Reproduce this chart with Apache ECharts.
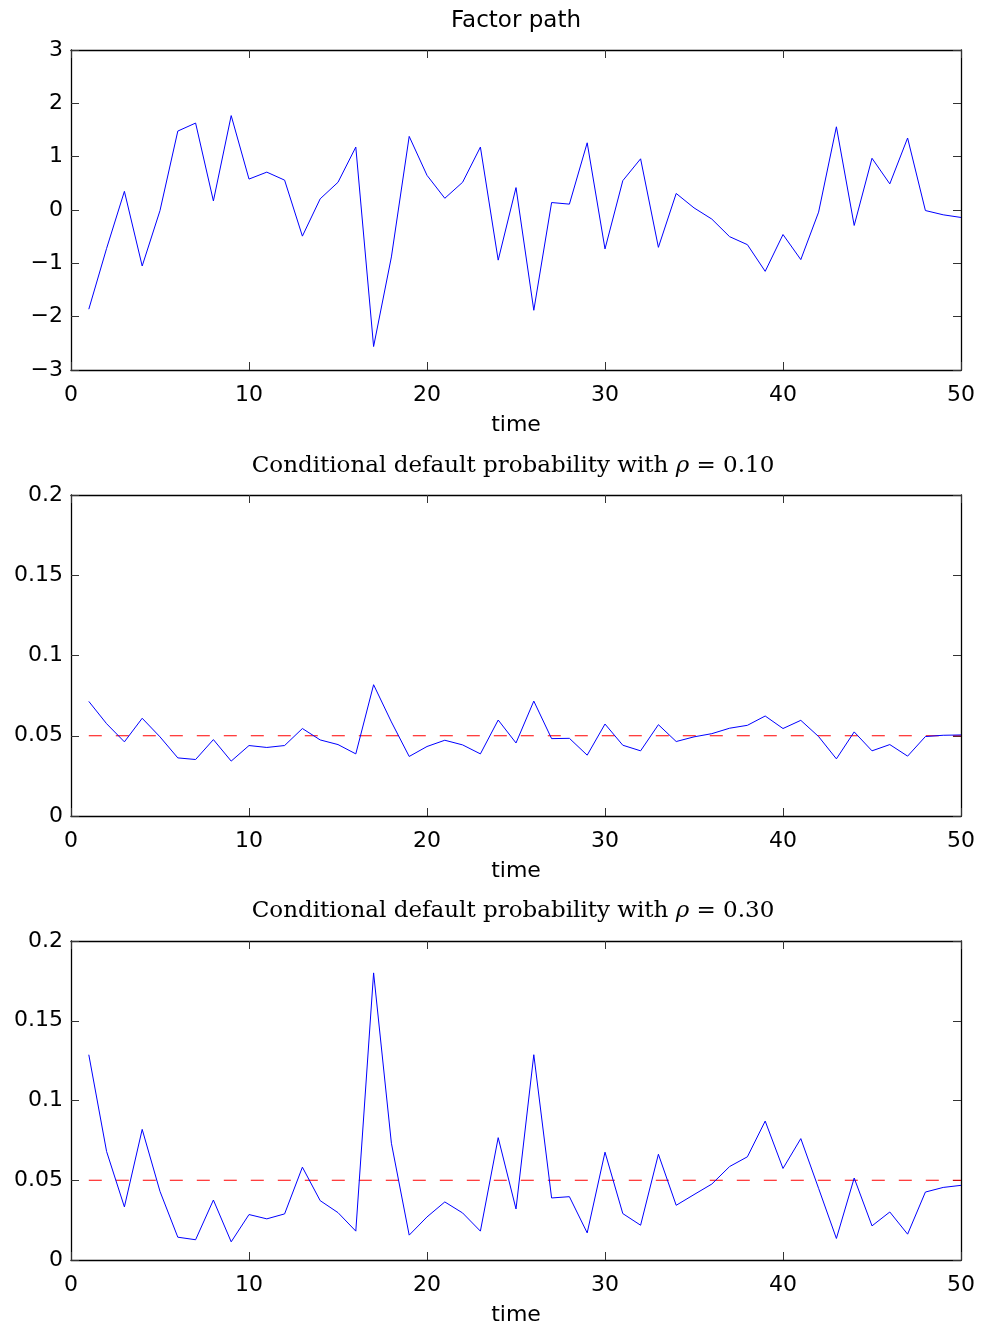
<!DOCTYPE html>
<html>
<head>
<meta charset="utf-8">
<script src="https://cdn.jsdelivr.net/npm/echarts@6/dist/echarts.min.js"></script>
<style>
html,body{margin:0;padding:0;background:#fff;}
#chart{width:984px;height:1327px;}
</style>
</head>
<body>
<div id="chart"></div>
<script>
// ---- data ----
const times = Array.from({length: 50}, (_, i) => i + 1);
const factorPath = [
  -1.86, -0.72, 0.35, -1.05, -0.01, 1.48, 1.63, 0.17, 1.77, 0.58,
  0.71, 0.56, -0.49, 0.21, 0.52, 1.18, -2.56, -0.88, 1.38, 0.65,
  0.22, 0.52, 1.18, -0.94, 0.42, -1.88, 0.14, 0.11, 1.26, -0.73,
  0.55, 0.96, -0.70, 0.31, 0.04, -0.17, -0.50, -0.65, -1.15, -0.46,
  -0.93, -0.04, 1.56, -0.29, 0.97, 0.49, 1.35, -0.01, -0.09, -0.14
];
const probRho10 = [
  0.0714, 0.0575, 0.0462, 0.0609, 0.0493, 0.0362, 0.0352, 0.0476, 0.0342, 0.0439,
  0.0427, 0.0439, 0.0545, 0.0474, 0.0445, 0.0387, 0.0818, 0.0586, 0.0371, 0.0433,
  0.0472, 0.0443, 0.0387, 0.0598, 0.0455, 0.0716, 0.0482, 0.0484, 0.0379, 0.0573,
  0.0441, 0.0406, 0.0569, 0.0464, 0.0493, 0.0513, 0.0547, 0.0565, 0.0623, 0.0545,
  0.0596, 0.0495, 0.0356, 0.0524, 0.0406, 0.0445, 0.0373, 0.0495, 0.0503, 0.0505
];
const probRho30 = [
  0.1287, 0.0680, 0.0333, 0.0819, 0.0430, 0.0143, 0.0127, 0.0376, 0.0114, 0.0285,
  0.0258, 0.0289, 0.0582, 0.0372, 0.0297, 0.0181, 0.1800, 0.0732, 0.0156, 0.0270,
  0.0364, 0.0295, 0.0181, 0.0767, 0.0320, 0.1287, 0.0389, 0.0397, 0.0170, 0.0676,
  0.0291, 0.0218, 0.0663, 0.0343, 0.0410, 0.0476, 0.0586, 0.0647, 0.0871, 0.0574,
  0.0761, 0.0449, 0.0135, 0.0514, 0.0214, 0.0301, 0.0162, 0.0426, 0.0455, 0.0468
];
const unconditionalPD = 0.05;
const titles = ['Factor path', 'Conditional default probability with ', '\u03C1', ' = 0.10', ' = 0.30'];
const xLabelName = 'time';

// ---- chart ----
const chart = echarts.init(document.getElementById('chart'));
const sans = 'DejaVu Sans, Liberation Sans, Arial, sans-serif';
const serif = 'DejaVu Serif, Liberation Serif, serif';
const gridTops = [50, 495, 941];
const gridHeights = [320, 321, 320];
const yRanges = [[-3, 3, 1], [0, 0.2, 0.05], [0, 0.2, 0.05]];

const grids = [], xAxes = [], yAxes = [], series = [];
for (let g = 0; g < 3; g++) {
  grids.push({left: 71, width: 890, top: gridTops[g], height: gridHeights[g], containLabel: false});
  const axisLine = {show: true, onZero: false, lineStyle: {color: '#000', width: 1.3}};
  const tick = {show: true, inside: true, length: 8, lineStyle: {color: '#333', width: 1}};
  xAxes.push({
    type: 'value', gridIndex: g, min: 0, max: 50, interval: 10, position: 'bottom',
    axisLine: axisLine, axisTick: tick, splitLine: {show: false},
    axisLabel: {fontFamily: sans, fontSize: 22, color: '#000', margin: 14},
    name: xLabelName, nameLocation: 'middle', nameGap: 44,
    nameTextStyle: {fontFamily: sans, fontSize: 22, color: '#000'}
  });
  xAxes.push({
    type: 'value', gridIndex: g, min: 0, max: 50, interval: 10, position: 'top',
    axisLine: axisLine, axisTick: tick, splitLine: {show: false}, axisLabel: {show: false}
  });
  const [mn, mx, iv] = yRanges[g];
  yAxes.push({
    type: 'value', gridIndex: g, min: mn, max: mx, interval: iv, position: 'left',
    axisLine: axisLine, axisTick: tick, splitLine: {show: false},
    axisLabel: {fontFamily: sans, fontSize: 22, color: '#000', margin: 8,
      formatter: v => String(+v.toFixed(4)).replace('-', '\u2212')}
  });
  yAxes.push({
    type: 'value', gridIndex: g, min: mn, max: mx, interval: iv, position: 'right',
    axisLine: axisLine, axisTick: tick, splitLine: {show: false}, axisLabel: {show: false}
  });
}

const pairs = arr => times.map((t, i) => [t, arr[i]]);
const blue = {color: '#0000ff', width: 1};
series.push({type: 'line', xAxisIndex: 0, yAxisIndex: 0, data: pairs(factorPath),
  showSymbol: false, lineStyle: blue, itemStyle: {color: '#0000ff'}, silent: true});
[probRho10, probRho30].forEach((arr, k) => {
  const xi = 2 + k * 2, yi = 2 + k * 2;
  series.push({type: 'line', xAxisIndex: xi, yAxisIndex: yi,
    data: [[times[0], unconditionalPD], [times[times.length - 1], unconditionalPD]],
    showSymbol: false, lineStyle: {color: '#ff0000', width: 1.2, type: [13, 14]},
    itemStyle: {color: '#ff0000'}, silent: true});
  series.push({type: 'line', xAxisIndex: xi, yAxisIndex: yi, data: pairs(arr),
    showSymbol: false, lineStyle: blue, itemStyle: {color: '#0000ff'}, silent: true});
});

const richStyle = {
  n: {fontFamily: serif, fontSize: 23, fontWeight: 'normal', color: '#000'},
  i: {fontFamily: serif, fontSize: 23, fontWeight: 'normal', fontStyle: 'italic', color: '#000'}
};
const title = [
  {text: titles[0], left: 516, top: 10, textStyle: {fontFamily: sans, fontSize: 23, fontWeight: 'normal', color: '#000'}},
  {text: '{n|' + titles[1] + '}{i|' + titles[2] + '}{n|' + titles[3] + '}', left: 513, top: 455,
    textStyle: {fontWeight: 'normal', rich: richStyle}},
  {text: '{n|' + titles[1] + '}{i|' + titles[2] + '}{n|' + titles[4] + '}', left: 513, top: 900,
    textStyle: {fontWeight: 'normal', rich: richStyle}}
];
title.forEach(t => { t.textAlign = 'center'; t.padding = 0; });

chart.setOption({
  animation: false,
  backgroundColor: '#fff',
  title: title,
  grid: grids,
  xAxis: xAxes,
  yAxis: yAxes,
  series: series
});
</script>
</body>
</html>
